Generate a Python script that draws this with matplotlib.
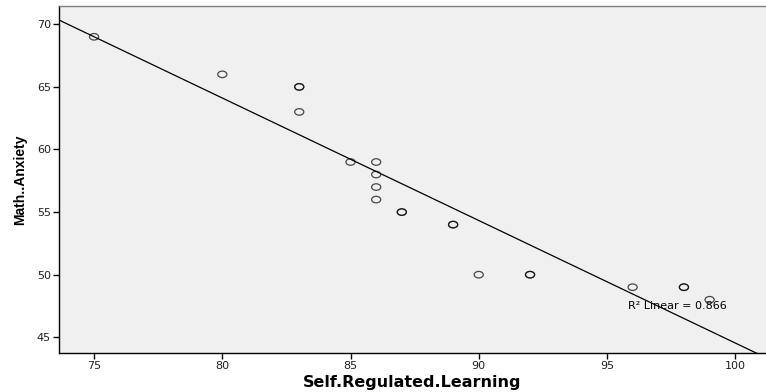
import numpy as np
import matplotlib
matplotlib.use("Agg")
import matplotlib.pyplot as plt
from matplotlib.markers import MarkerStyle
from matplotlib.transforms import Affine2D

# scores (darker circles = two cases on top of each other)
srl = [75, 80, 83, 83, 83, 85, 86, 86, 86, 86, 87, 87, 89, 89, 90, 92, 92, 96, 98, 98, 99]
anxiety = [69, 66, 65, 65, 63, 59, 59, 58, 57, 56, 55, 55, 54, 54, 50, 50, 50, 49, 49, 49, 48]
r2_text = "R\u00b2 Linear = 0.866"

xticks = [75, 80, 85, 90, 95, 100]
yticks = [45, 50, 55, 60, 65, 70]

plt.rcParams['font.family'] = ['DejaVu Sans']

fig = plt.figure(figsize=(7.66, 3.92), dpi=100)
ax = fig.add_axes([0.0766, 0.0987, 0.9234, 0.886])
ax.set_facecolor('#f0f0f0')

# regression line through the data
slope, icpt = np.polyfit(srl, anxiety, 1)
xl = np.array([73.6, 101.2])
ax.plot(xl, slope * xl + icpt, color='black', lw=0.9, zorder=2)

oval = MarkerStyle('o', transform=Affine2D().scale(1.4, 1.0))
ax.scatter(srl, anxiety, marker=oval, s=22, facecolors='none',
           edgecolors=(0, 0, 0, 0.7), linewidths=0.9, zorder=3)

ax.text(95.8, 47.5, r2_text, fontsize=8, ha='left', va='center', zorder=4)

ax.set_xlim(73.62, 101.2)
ax.set_ylim(43.72, 71.46)
ax.set_xticks(xticks)
ax.set_yticks(yticks)
ax.tick_params(direction='out', length=4, width=1, pad=1.5, labelsize=8,
               color='black', labelcolor='#202020')

for s in ['left', 'bottom']:
    ax.spines[s].set_color('black')
    ax.spines[s].set_linewidth(1)
ax.spines['top'].set_color('#808080')
ax.spines['top'].set_linewidth(1)
ax.spines['right'].set_visible(False)

ax.set_xlabel('Self.Regulated.Learning', fontsize=11.5, fontweight='bold', labelpad=3)
ax.set_ylabel('Math..Anxiety', fontsize=10, fontweight='bold', labelpad=7,
              family=['Liberation Sans Narrow', 'Liberation Sans'])

fig.savefig('out.png', dpi=100)
